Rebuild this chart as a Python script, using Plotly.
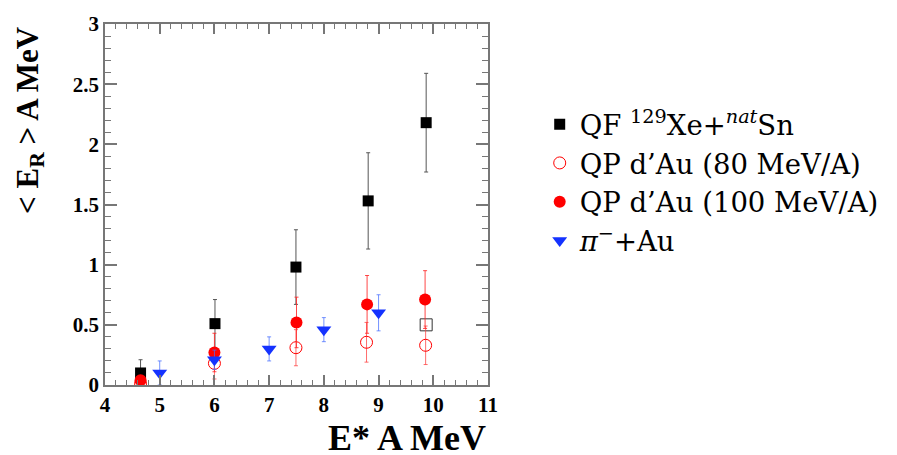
import plotly.graph_objects as go

# QF 129Xe + natSn
qf_x = [4.65, 6.01, 7.49, 8.81, 9.87]
qf_y = [0.10, 0.51, 0.98, 1.53, 2.18]
qf_err = [0.11, 0.20, 0.31, 0.40, 0.41]

# extra open square (same system)
qf_open_x = [9.87]
qf_open_y = [0.50]

# QP d'Au 80 MeV/A
qp80_x = [4.65, 6.00, 7.49, 8.78, 9.86]
qp80_y = [0.01, 0.18, 0.31, 0.355, 0.33]
qp80_err = [0.02, 0.13, 0.15, 0.165, 0.16]

# QP d'Au 100 MeV/A
qp100_x = [4.65, 6.00, 7.50, 8.79, 9.85]
qp100_y = [0.04, 0.27, 0.52, 0.67, 0.71]
qp100_err = [0.03, 0.16, 0.21, 0.24, 0.24]

# pi- + Au
pi_x = [5.0, 6.0, 7.0, 8.0, 9.0]
pi_y = [0.10, 0.21, 0.30, 0.46, 0.60]
pi_err = [0.10, 0.08, 0.10, 0.10, 0.15]

x_ticks = [4, 5, 6, 7, 8, 9, 10, 11]
y_ticks = [0, 0.5, 1, 1.5, 2, 2.5, 3]
y_tick_labels = ["0", "0.5", "1", "1.5", "2", "2.5", "3"]

fig = go.Figure()

fig.add_trace(go.Scatter(
    x=qf_x, y=qf_y, mode="markers",
    name="QF <sup>129</sup>Xe+<sup><i>nat</i></sup>Sn",
    marker=dict(symbol="square", size=11, color="black"),
    error_y=dict(type="data", array=qf_err, color="#555555", thickness=1, width=2),
))
fig.add_trace(go.Scatter(
    x=qf_open_x, y=qf_open_y, mode="markers", showlegend=False,
    marker=dict(symbol="square-open", size=12, color="#333333", line=dict(width=1)),
))
fig.add_trace(go.Scatter(
    x=qp80_x, y=qp80_y, mode="markers",
    name="QP d’Au (80 MeV/A)",
    marker=dict(symbol="circle-open", size=12, color="red", line=dict(width=1)),
    error_y=dict(type="data", array=qp80_err, color="rgba(255,60,60,0.75)", thickness=1, width=2),
))
fig.add_trace(go.Scatter(
    x=qp100_x, y=qp100_y, mode="markers",
    name="QP d’Au (100 MeV/A)",
    marker=dict(symbol="circle", size=12, color="red"),
    error_y=dict(type="data", array=qp100_err, color="rgba(255,40,40,0.85)", thickness=1, width=2),
))
fig.add_trace(go.Scatter(
    x=pi_x, y=pi_y, mode="markers",
    name="<i>π</i><sup>−</sup>+Au",
    marker=dict(symbol="triangle-down", size=13, color="rgb(20,50,255)"),
    error_y=dict(type="data", array=pi_err, color="rgba(70,110,255,0.75)", thickness=1, width=2),
))

axis_common = dict(
    showgrid=False, zeroline=False, showline=True, linecolor="#777777", linewidth=1.5,
    mirror="allticks", ticks="inside", tickcolor="#777777", tickwidth=1.5,
    tickfont=dict(family="Liberation Serif", size=21, color="black", weight="bold"),
)

fig.update_xaxes(
    range=[4, 11], tickvals=x_ticks, ticklen=10,
    minor=dict(dtick=0.2, ticklen=5, ticks="inside", tickcolor="#777777", tickwidth=1),
    **axis_common,
)
fig.update_yaxes(
    range=[0, 3], tickvals=y_ticks, ticktext=y_tick_labels, ticklen=12,
    minor=dict(dtick=0.1, ticklen=6, ticks="inside", tickcolor="#777777", tickwidth=1),
    **axis_common,
)

fig.add_annotation(
    text="E* A MeV", xref="paper", yref="paper", x=1.0, y=-0.147,
    xanchor="right", yanchor="middle", showarrow=False,
    font=dict(family="Liberation Serif", size=36, color="black", weight="bold"),
)
fig.add_annotation(
    text="&lt; E<sub>R</sub> &gt; A MeV", xref="paper", yref="paper",
    x=-0.196, y=1.0, xanchor="center", yanchor="top", textangle=-90, showarrow=False,
    font=dict(family="Liberation Serif", size=31, color="black", weight="bold"),
)

fig.update_layout(
    width=897, height=455,
    margin=dict(l=105, r=409, t=19, b=70),
    paper_bgcolor="white", plot_bgcolor="white",
    showlegend=True,
    legend=dict(
        x=1.135, y=0.79, xanchor="left", yanchor="top",
        font=dict(family="DejaVu Serif", size=27.5, color="black"),
        bgcolor="rgba(0,0,0,0)", itemsizing="trace",
    ),
)

fig.write_html("out.html", config={"displayModeBar": False},
               post_script="document.body.style.margin='0';")
